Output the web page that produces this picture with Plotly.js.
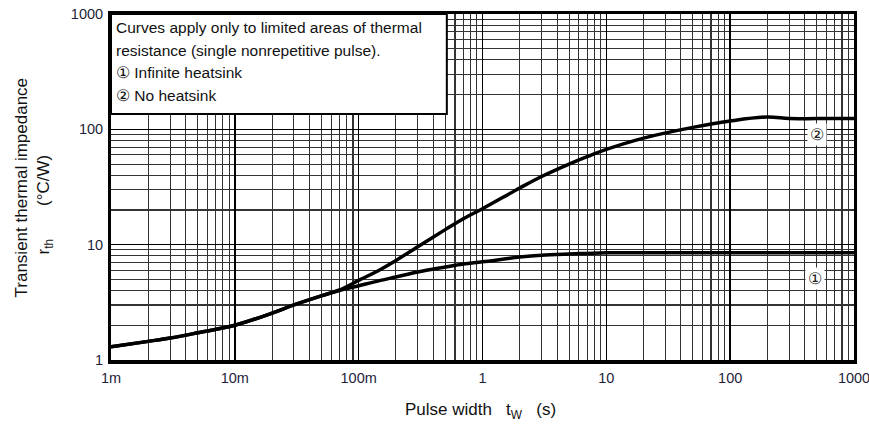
<!DOCTYPE html>
<html>
<head>
<meta charset="utf-8">
<script src="https://cdn.plot.ly/plotly-3.0.1.min.js"></script>
<style>
  html, body { margin: 0; padding: 0; background: #fff; }
  #chart { width: 869px; height: 427px; }
</style>
</head>
<body>
<div id="chart"></div>
<script>
// Pulse width (s)
const pulseWidth = [0.001, 0.002, 0.003, 0.005, 0.01, 0.02, 0.03, 0.05, 0.07, 0.1, 0.15, 0.2, 0.3, 0.5, 0.7, 1, 2, 3, 5, 7, 10, 20, 50, 100, 200, 300, 500, 1000];
// Curve 2: No heatsink (°C/W)
const noHeatsink = [1.3, 1.45, 1.55, 1.72, 2.0, 2.55, 3.0, 3.6, 4.05, 4.9, 6.1, 7.3, 9.6, 13.5, 16.8, 20.5, 31, 39, 50, 58, 67, 84, 104, 118, 128, 124, 124, 124];
// Curve 1: Infinite heatsink (°C/W)
const infiniteHeatsink = [1.3, 1.45, 1.55, 1.72, 2.0, 2.55, 3.0, 3.6, 4.0, 4.4, 4.9, 5.25, 5.8, 6.4, 6.8, 7.1, 7.8, 8.1, 8.3, 8.4, 8.5, 8.5, 8.5, 8.5, 8.5, 8.5, 8.5, 8.5];

const xTickVals = [0.001, 0.01, 0.1, 1, 10, 100, 1000];
const xTickText = ['1m', '10m', '100m', '1', '10', '100', '1000'];
const yTickVals = [1, 10, 100, 1000];
const yTickText = ['1', '10', '100', '1000'];

const noteLines = [
  'Curves apply only to limited areas of thermal',
  'resistance (single nonrepetitive pulse).',
  '\u2460 Infinite heatsink',
  '\u2461 No heatsink'
];

const labelColor = '#1e1e3c';
const fontFam = 'Liberation Sans, Arial, sans-serif';
const sp = n => '\u00a0'.repeat(n);

const traces = [
  { x: pulseWidth, y: noHeatsink, mode: 'lines', line: { color: '#000', width: 3.5, shape: 'spline', smoothing: 1 }, name: 'No heatsink', hoverinfo: 'x+y' },
  { x: pulseWidth, y: infiniteHeatsink, mode: 'lines', line: { color: '#000', width: 3.5, shape: 'spline', smoothing: 1 }, name: 'Infinite heatsink', hoverinfo: 'x+y' }
];

const annotations = noteLines.map((t, i) => ({
  xref: 'paper', yref: 'paper', x: 0.004, y: 1 - (0.008 + i * 0.066),
  xanchor: 'left', yanchor: 'top', showarrow: false, text: t,
  font: { family: fontFam, size: 15.5, color: '#111' }
}));

annotations.push(
  { xref: 'x', yref: 'y', x: Math.log10(500), y: Math.log10(91), text: '\u2461', showarrow: false, bgcolor: '#fff', font: { family: fontFam, size: 16, color: '#222' }, borderpad: 2 },
  { xref: 'x', yref: 'y', x: Math.log10(485), y: Math.log10(5.14), text: '\u2460', showarrow: false, bgcolor: '#fff', font: { family: fontFam, size: 16, color: '#222' }, borderpad: 2 },
  { xref: 'paper', yref: 'paper', x: -0.136, y: 0.5, textangle: -90, showarrow: false, text: 'Transient thermal impedance', font: { family: fontFam, size: 17, color: '#111' } },
  { xref: 'paper', yref: 'paper', x: -0.106, y: 0.45, textangle: -90, showarrow: false, text: 'r<sub>th</sub>' + sp(7) + '(°C/W)', font: { family: fontFam, size: 17, color: '#111' } },
  { xref: 'paper', yref: 'paper', x: 0.497, y: -0.185, showarrow: false, text: 'Pulse width' + sp(3) + 't<sub>W</sub>' + sp(3) + '(s)', font: { family: fontFam, size: 17, color: '#111' } }
);

const layout = {
  width: 869, height: 427,
  margin: { l: 111, r: 15, t: 14, b: 67 },
  paper_bgcolor: '#fff', plot_bgcolor: '#fff',
  showlegend: false,
  xaxis: {
    type: 'log', range: [-3, 3],
    tickvals: xTickVals, ticktext: xTickText,
    tickfont: { family: fontFam, size: 14.5, color: labelColor },
    showgrid: true, gridcolor: '#000', gridwidth: 1.4,
    minor: { dtick: 'D1', showgrid: true, gridcolor: '#333', gridwidth: 1.1 },
    showline: true, linecolor: '#000', linewidth: 3.5, mirror: true,
    ticks: '', zeroline: false, ticklabelstandoff: 2, ticklabeloverflow: 'allow'
  },
  yaxis: {
    type: 'log', range: [0, 3],
    tickvals: yTickVals, ticktext: yTickText,
    tickfont: { family: fontFam, size: 14.5, color: labelColor },
    showgrid: true, gridcolor: '#000', gridwidth: 1.4,
    minor: { dtick: 'D1', showgrid: true, gridcolor: '#333', gridwidth: 1.1 },
    showline: true, linecolor: '#000', linewidth: 3, mirror: true,
    ticks: '', zeroline: false, ticklabelstandoff: 2, ticklabeloverflow: 'allow'
  },
  shapes: [
    { type: 'rect', xref: 'paper', yref: 'paper', x0: 0, x1: 0.452, y0: 0.711, y1: 1, fillcolor: '#fff', line: { color: '#000', width: 2 }, layer: 'above' }
  ],
  annotations: annotations
};

Plotly.newPlot('chart', traces, layout, { staticPlot: true });
</script>
</body>
</html>
